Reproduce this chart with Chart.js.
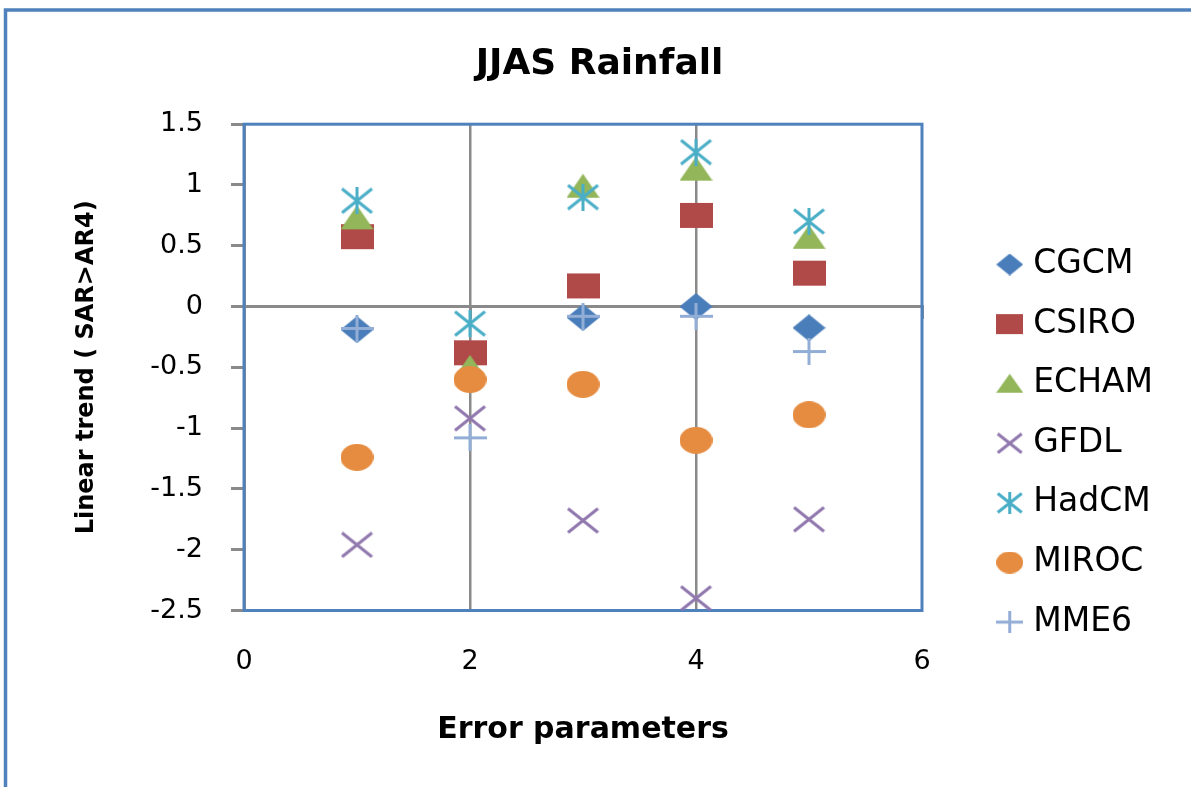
<!DOCTYPE html>
<html>
<head>
<meta charset="utf-8">
<title>JJAS Rainfall</title>
<script src="https://cdn.jsdelivr.net/npm/chart.js@4.4.1/dist/chart.umd.min.js"></script>
<style>
  html, body { margin: 0; padding: 0; background: #ffffff; }
  canvas { display: block; }
</style>
</head>
<body>
<canvas id="chart" width="1191" height="787"></canvas>
<script>
// Linear trend (SAR > AR4) of JJAS rainfall for each error parameter
const errorParams = [1, 2, 3, 4, 5];
const cgcm  = [-0.19, -0.42, -0.09, 0.00, -0.175];
const csiro = [0.575, -0.38, 0.17, 0.75, 0.275];
const echam = [0.73, -0.50, 0.99, 1.13, 0.57];
const gfdl  = [-1.96, -0.92, -1.76, -2.40, -1.75];
const hadcm = [0.87, -0.14, 0.90, 1.27, 0.70];
const miroc = [-1.24, -0.60, -0.64, -1.10, -0.89];
const mme6  = [-0.18, -1.08, -0.08, -0.08, -0.37];

const seriesNames = ['CGCM', 'CSIRO', 'ECHAM', 'GFDL', 'HadCM', 'MIROC', 'MME6'];
const seriesValues = [cgcm, csiro, echam, gfdl, hadcm, miroc, mme6];

const xTicks = [0, 2, 4, 6];
const xTickLabels = ['0', '2', '4', '6'];
const yTicks = [-2.5, -2, -1.5, -1, -0.5, 0, 0.5, 1, 1.5];
const yTickLabels = ['-2.5', '-2', '-1.5', '-1', '-0.5', '0', '0.5', '1', '1.5'];

// Styling
const BLUE = '#4f81bd';
const GRID = '#8a8a8a';
const FONT = 'DejaVu Sans';
const LEFT_PAD = 36;
const RIGHT_PAD = 28;
const PLOT_LEFT = 244;
const PLOT_RIGHT = 922;
const seriesColors = ['#4a7ebb', '#b04a48', '#93b65a', '#9078ae', '#4aaec7', '#e68c40', '#93aed6'];
const seriesShapes = ['diamond', 'square', 'triangle', 'cross', 'star', 'circle', 'plus'];

// Marker images (slightly wider than tall)
function makeMarker(kind, color, w, h) {
  const c = document.createElement('canvas');
  c.width = w; c.height = h;
  const g = c.getContext('2d');
  g.fillStyle = color;
  g.strokeStyle = color;
  g.lineWidth = 3;
  g.lineCap = 'butt';
  const cx = w / 2, cy = h / 2;
  g.beginPath();
  switch (kind) {
    case 'diamond':
      g.moveTo(cx, 0); g.lineTo(w, cy); g.lineTo(cx, h); g.lineTo(0, cy); g.closePath(); g.fill();
      break;
    case 'square':
      g.fillRect(0, 1, w, h - 2);
      break;
    case 'triangle':
      g.moveTo(cx, 1); g.lineTo(w, h - 2); g.lineTo(0, h - 2); g.closePath(); g.fill();
      break;
    case 'cross':
      g.moveTo(1.5, 1.5); g.lineTo(w - 1.5, h - 1.5);
      g.moveTo(w - 1.5, 1.5); g.lineTo(1.5, h - 1.5); g.stroke();
      break;
    case 'star':
      g.moveTo(1.5, 1.5); g.lineTo(w - 1.5, h - 1.5);
      g.moveTo(w - 1.5, 1.5); g.lineTo(1.5, h - 1.5);
      g.moveTo(cx, 0); g.lineTo(cx, h); g.stroke();
      break;
    case 'circle':
      g.ellipse(cx, cy, w / 2, h / 2, 0, 0, Math.PI * 2); g.fill();
      break;
    case 'plus':
      g.moveTo(0, cy); g.lineTo(w, cy);
      g.moveTo(cx, 0); g.lineTo(cx, h); g.stroke();
      break;
  }
  return c;
}

const plotMarkers = seriesShapes.map((s, i) => makeMarker(s, seriesColors[i], 33, 27));
const legendMarkers = seriesShapes.map((s, i) => makeMarker(s, seriesColors[i], 27, 22));

const datasets = seriesNames.map((name, i) => ({
  label: name,
  data: errorParams.map((x, j) => ({ x: x, y: seriesValues[i][j] })),
  pointStyle: plotMarkers[i],
  backgroundColor: seriesColors[i],
  borderColor: seriesColors[i],
  showLine: false,
  order: seriesNames.length - 1 - i   // later series drawn on top
}));

// Outer chart frame and plot-area border
const framePlugin = {
  id: 'frames',
  beforeDraw(chart) {
    const g = chart.ctx;
    g.save();
    g.strokeStyle = BLUE;
    g.lineWidth = 3.5;
    g.beginPath();
    g.moveTo(5.5, chart.height + 10);
    g.lineTo(5.5, 10);
    g.lineTo(chart.width + 10, 10);
    g.stroke();
    g.restore();
  },
  beforeDatasetsDraw(chart) {
    const a = chart.chartArea;
    const g = chart.ctx;
    g.save();
    g.strokeStyle = BLUE;
    g.lineWidth = 3;
    g.strokeRect(a.left, a.top, a.right - a.left, a.bottom - a.top);
    g.restore();
  }
};

const tickFont = { family: FONT, size: 27 };

new Chart(document.getElementById('chart'), {
  type: 'scatter',
  data: { datasets },
  options: {
    responsive: false,
    animation: false,
    events: [],
    layout: { padding: { left: LEFT_PAD, right: RIGHT_PAD, top: 0, bottom: 0 } },
    plugins: {
      title: {
        display: true,
        text: 'JJAS Rainfall',
        color: '#000',
        font: { family: FONT, size: 36, weight: 'bold' },
        padding: { top: 43, bottom: 38 }
      },
      legend: {
        position: 'right',
        align: 'start',
        title: {
          display: true,
          text: '',
          font: { family: FONT, size: 10 },
          padding: { top: 209.4, bottom: 0 }
        },
        labels: {
          usePointStyle: true,
          pointStyleWidth: 14,
          padding: 26.6,
          color: '#000',
          font: { family: FONT, size: 33 },
          sort: (a, b) => a.datasetIndex - b.datasetIndex,
          generateLabels(chart) {
            const items = Chart.defaults.plugins.legend.labels.generateLabels(chart);
            items.forEach(it => { it.pointStyle = legendMarkers[it.datasetIndex]; });
            return items;
          }
        }
      },
      tooltip: { enabled: false }
    },
    scales: {
      x: {
        type: 'linear',
        position: 'bottom',
        min: 0,
        max: 6,
        afterBuildTicks(s) { s.ticks = xTicks.map(v => ({ value: v })); },
        afterFit(s) { s.height = 176.5; },
        grid: {
          drawTicks: false,
          lineWidth: 2.5,
          color: c => (c.tick && c.tick.value > 0 && c.tick.value < 6) ? GRID : 'rgba(0,0,0,0)'
        },
        border: { display: false },
        ticks: {
          padding: 35,
          color: '#000',
          font: tickFont,
          callback: v => xTickLabels[xTicks.indexOf(v)]
        },
        title: {
          display: true,
          text: 'Error parameters',
          color: '#000',
          font: { family: FONT, size: 30, weight: 'bold' },
          padding: { top: 0, bottom: 39 }
        }
      },
      xAxisLine: {
        type: 'linear',
        axis: 'x',
        position: { y: 0 },
        min: 0,
        max: 6,
        afterBuildTicks(s) { s.ticks = xTicks.map(v => ({ value: v })); },
        grid: { drawOnChartArea: false, drawTicks: true, tickLength: 11, color: GRID, lineWidth: 3, z: -1 },
        border: { color: GRID, width: 3 },
        ticks: { display: false }
      },
      y: {
        type: 'linear',
        position: 'left',
        min: -2.5,
        max: 1.5,
        afterBuildTicks(s) { s.ticks = yTicks.map(v => ({ value: v })); },
        afterFit(s) { s.width = PLOT_LEFT - LEFT_PAD; },
        grid: { drawOnChartArea: false, drawTicks: true, tickLength: 13, color: GRID, lineWidth: 3 },
        border: { color: GRID, width: 3 },
        ticks: {
          padding: 28,
          color: '#000',
          font: tickFont,
          callback: v => yTickLabels[yTicks.indexOf(v)]
        },
        title: {
          display: true,
          text: 'Linear trend ( SAR>AR4)',
          color: '#000',
          font: { family: FONT, size: 24, weight: 'bold' },
          padding: { top: 72 - LEFT_PAD, bottom: 0 }
        }
      },
      gap: {
        type: 'linear',
        axis: 'y',
        position: 'right',
        display: true,
        grid: { display: false },
        border: { display: false },
        ticks: { display: false },
        afterFit(s) {
          const lw = s.chart.legend ? s.chart.legend.width : 200;
          s.width = Math.max(0, s.chart.width - RIGHT_PAD - lw - PLOT_RIGHT);
        }
      }
    }
  },
  plugins: [framePlugin]
});
</script>
</body>
</html>
